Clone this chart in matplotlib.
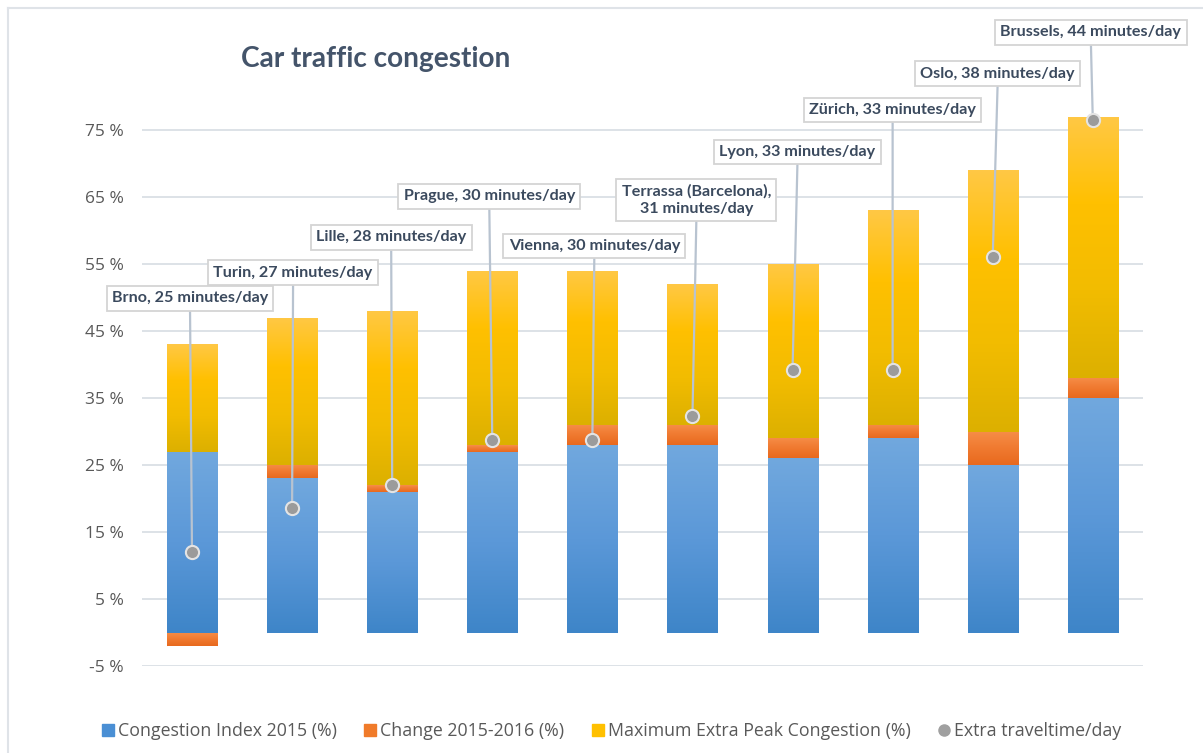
import numpy as np
import matplotlib
matplotlib.use("Agg")
import matplotlib.pyplot as plt
from matplotlib.colors import LinearSegmentedColormap
from matplotlib.lines import Line2D

plt.rcParams['font.family'] = ['Lato', 'DejaVu Sans']

cities = ['Brno', 'Turin', 'Lille', 'Prague', 'Vienna', 'Terrassa (Barcelona)',
          'Lyon', 'Zürich', 'Oslo', 'Brussels']
minutes = [25, 27, 28, 30, 30, 31, 33, 33, 38, 44]
index_2015 = [27, 23, 21, 27, 28, 28, 26, 29, 25, 35]
change = [-2, 2, 1, 1, 3, 3, 3, 2, 5, 3]
peak_extra = [16, 22, 26, 26, 23, 21, 26, 32, 39, 39]
dot_y = [12, 18.6, 22, 28.7, 28.7, 32.3, 39.2, 39.2, 56, 76.5]
yticks = [-5, 5, 15, 25, 35, 45, 55, 65, 75]

# label box positions (category units, %)
label_x = [-0.02, 1.01, 1.99, 2.97, 4.02, 5.04, 6.05, 7.0, 8.05, 8.98]
label_y = [49.9, 53.7, 59.0, 65.1, 57.7, 64.6, 71.7, 78.0, 83.4, 89.6]

x = np.arange(len(cities))
idx = np.array(index_2015, dtype=float)
chg = np.array(change, dtype=float)
pos_chg = np.clip(chg, 0, None)

fig = plt.figure(figsize=(12.03, 7.53), dpi=100)
ax = fig.add_axes([0.118, 0.1155, 0.832, 0.7741])

grad = np.linspace(0, 1, 256).reshape(-1, 1)
cm_blue = LinearSegmentedColormap.from_list('b', ['#3e85c8', '#5b98d8', '#71a8de'])
cm_orange = LinearSegmentedColormap.from_list('o', ['#e8691e', '#f07a30', '#f68e48'])
cm_yellow = LinearSegmentedColormap.from_list('y', ['#dcb000', '#f2bc00', '#ffc000', '#ffc845'])


def gradient_bars(bars, cmap):
    for b in bars:
        x0, y0 = b.get_x(), b.get_y()
        w, h = b.get_width(), b.get_height()
        lo, hi = min(y0, y0 + h), max(y0, y0 + h)
        im = ax.imshow(grad, extent=[x0, x0 + w, lo, hi], origin='lower',
                       aspect='auto', cmap=cmap, zorder=2)
        im.set_clip_path(b)


b1 = ax.bar(x, idx, width=0.5, color='#5b98d8', edgecolor='white', lw=0.8, zorder=2)
b2 = ax.bar(x, chg, width=0.5, bottom=np.where(chg > 0, idx, 0),
            color='#f07a30', edgecolor='white', lw=0.8, zorder=2)
b3 = ax.bar(x, peak_extra, width=0.5, bottom=idx + pos_chg,
            color='#ffc000', edgecolor='white', lw=0.8, zorder=2)
gradient_bars(b1, cm_blue)
gradient_bars(b2, cm_orange)
gradient_bars(b3, cm_yellow)

# labels with leader lines
for i in range(len(cities)):
    if i == 5:
        txt = 'Terrassa (Barcelona),\n%d minutes/day' % minutes[i]
    else:
        txt = '%s, %d minutes/day' % (cities[i], minutes[i])
    ax.annotate(txt, xy=(x[i], dot_y[i]), xytext=(label_x[i], label_y[i]),
                ha='center', va='center', fontsize=11.6, fontweight='bold',
                color='#3b4a5e', linespacing=1.3, annotation_clip=False,
                bbox=dict(boxstyle='square,pad=0.33', fc='white', ec='#d4d4d4', lw=1.3),
                arrowprops=dict(arrowstyle='-', color='#b8c3d0', lw=1.6,
                                relpos=(0.5, 0), shrinkA=0, shrinkB=0),
                zorder=4)

ax.scatter(x, dot_y, s=90, color='#9b9b9b', edgecolor='#e4e4e4', lw=1.5, zorder=5)

ax.set_xlim(-0.5, 9.5)
ax.set_ylim(-5, 82)
ax.set_yticks(yticks)
ax.set_yticklabels(['%d %%' % v for v in yticks], family=['Open Sans', 'DejaVu Sans'])
ax.set_xticks([])
ax.tick_params(axis='y', length=0, pad=13, labelsize=12.5, labelcolor='#595959')
ax.grid(axis='y', color='#dadfe5', lw=1.3, zorder=0)
ax.set_axisbelow(True)
for s in ax.spines.values():
    s.set_visible(False)

fig.text(0.2, 0.921, 'Car traffic congestion', fontsize=20.2, fontweight='bold',
         color='#44546a', ha='left', va='center')

# chart frame
fig.add_artist(Line2D([0.0066, 0.0066], [0, 0.989], color='#dfe3e8', lw=1.5))
fig.add_artist(Line2D([0.0066, 1], [0.989, 0.989], color='#dfe3e8', lw=1.5))

handles = [
    Line2D([], [], marker='s', ls='none', color='#4a8fd4', markersize=8),
    Line2D([], [], marker='s', ls='none', color='#f07b2a', markersize=8),
    Line2D([], [], marker='s', ls='none', color='#ffc000', markersize=8),
    Line2D([], [], marker='o', ls='none', color='#a0a0a0', markersize=8),
]
names = ['Congestion Index 2015 (%)', 'Change 2015-2016 (%)',
         'Maximum Extra Peak Congestion (%)', 'Extra traveltime/day']
fig.legend(handles, names, loc='center', bbox_to_anchor=(0.508, 0.029), ncol=4,
           frameon=False, prop={'family': ['Open Sans', 'DejaVu Sans'], 'size': 12.8},
           labelcolor='#595959', handlelength=0.8,
           handletextpad=0.15, columnspacing=1.5)

fig.savefig('out.png', dpi=100)
